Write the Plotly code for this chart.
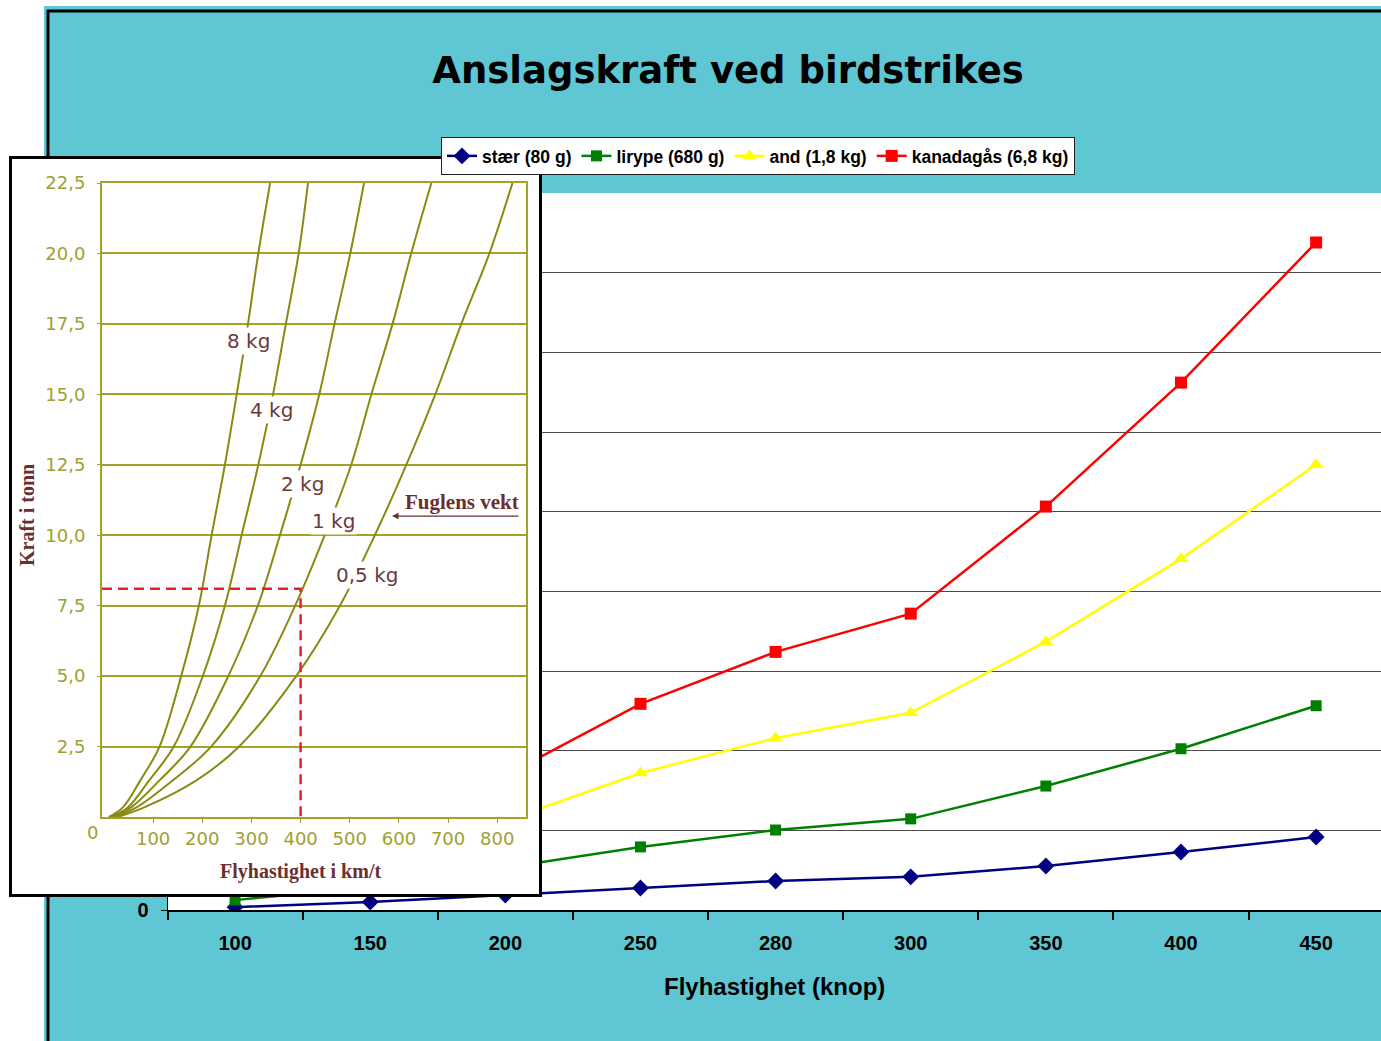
import plotly.graph_objects as go

W, H = 1381, 1041
OFF = 0  # page body margin is removed by the post script below

# ---------------- main chart data ----------------
speeds_knop = ["100", "150", "200", "250", "280", "300", "350", "400", "450"]
staer = [0.09, 0.25, 0.47, 0.69, 0.91, 1.04, 1.38, 1.82, 2.29]
lirype = [0.31, 0.72, 1.33, 1.98, 2.51, 2.86, 3.89, 5.06, 6.41]
and_ = [0.69, 1.55, 2.80, 4.30, 5.40, 6.19, 8.42, 11.02, 13.98]
kanadagaas = [1.04, 2.33, 4.22, 6.47, 8.10, 9.30, 12.66, 16.55, 20.95]
main_y_ticks = [0, 2.5, 5, 7.5, 10, 12.5, 15, 17.5, 20, 22.5]
# only "0" is visible in the picture; the other labels are hidden behind the inset
main_y_ticktext = ["0", "", "", "", "", "", "", "", "", ""]

# ---------------- inset (scanned chart) data ----------------
curve_y = [0, 0.35, 1.3, 2.5, 5, 7.5, 10, 12.5, 15, 17.5, 20, 22.5]
kg8_x = [10, 39, 74, 113, 157, 193, 219, 246, 270, 293, 314, 338]
kg4_x = [14, 49, 92, 142, 201, 246, 280, 314, 344, 370, 396, 415]
kg2_x = [18, 56, 113, 176, 253, 313, 358, 400, 438, 469, 501, 529]
kg1_x = [22, 67, 140, 218, 318, 389, 449, 503, 544, 587, 625, 666]
kg05_x = [28, 83, 188, 275, 391, 480, 551, 615, 674, 727, 784, 831]
inset_x_ticks = [100, 200, 300, 400, 500, 600, 700, 800]
inset_y_ticks = [2.5, 5, 7.5, 10, 12.5, 15, 17.5, 20, 22.5]
inset_y_ticktext = ["2,5", "5,0", "7,5", "10,0", "12,5", "15,0", "17,5", "20,0", "22,5"]
example_speed = 400
example_force = 8.1
weight_labels = ["8 kg", "4 kg", "2 kg", "1 kg", "0,5 kg"]
weight_label_x = [293, 340, 403, 466, 535]
weight_label_y = [16.89, 14.44, 11.82, 10.5, 8.59]

TEAL = "#5fc6d3"
OLIVE = "#a3a32c"
CURVE = "#8a8a12"
TICKOL = "#a0a030"
MAROON = "#6b2f2f"


def px_x(px):
    return (px - OFF) / W


def px_y(py):
    return 1 - (py - OFF) / H


fig = go.Figure()

# main series
series = [
    ("stær (80 g)", staer, "#000080", "diamond", 13),
    ("lirype (680 g)", lirype, "#008000", "square", 11),
    ("and (1,8 kg)", and_, "#ffff00", "triangle-up", 13),
    ("kanadagås (6,8 kg)", kanadagaas, "#ff0000", "square", 12),
]
for name, vals, col, sym, sz in series:
    fig.add_trace(go.Scatter(
        x=speeds_knop, y=vals, name=name, mode="lines+markers",
        line=dict(color=col, width=2.5),
        marker=dict(color=col, symbol=sym, size=sz, line=dict(width=0)),
        xaxis="x", yaxis="y",
    ))

# inset white box (subplot 2)
fig.add_trace(go.Scatter(
    x=[0, 1, 1, 0, 0], y=[0, 0, 1, 1, 0], fill="toself", fillcolor="white",
    mode="lines", line=dict(width=0), hoverinfo="skip", showlegend=False,
    xaxis="x2", yaxis="y2",
))

# inset curves (subplot 3)
for xs in [kg8_x, kg4_x, kg2_x, kg1_x, kg05_x]:
    fig.add_trace(go.Scatter(
        x=xs, y=curve_y, mode="lines",
        line=dict(color=CURVE, width=2, shape="spline", smoothing=1.0),
        hoverinfo="skip", showlegend=False, xaxis="x3", yaxis="y3",
    ))

# red dashed reading lines
fig.add_trace(go.Scatter(
    x=[-4, example_speed, example_speed], y=[example_force, example_force, 0],
    mode="lines", line=dict(color="#e8202a", width=2.5, dash="10px,6px"),
    hoverinfo="skip", showlegend=False, xaxis="x3", yaxis="y3",
))

annotations = []
for t, xv, yv in zip(weight_labels, weight_label_x, weight_label_y):
    annotations.append(dict(
        x=xv, y=yv, xref="x3", yref="y3", text=t, showarrow=False,
        xanchor="center", yanchor="middle",
        font=dict(family="DejaVu Sans", size=20, color="#6b3b3b"),
        bgcolor="white", borderpad=1,
    ))
annotations += [
    dict(x=728, y=11.18, xref="x3", yref="y3", text="Fuglens vekt", showarrow=False,
         xanchor="center", yanchor="middle",
         font=dict(family="Liberation Serif", size=21, color=MAROON, weight="bold"),
         bgcolor="white", borderpad=0),
    dict(x=586, y=10.68, xref="x3", yref="y3", ax=846, ay=10.68, axref="x3", ayref="y3",
         text="", showarrow=True, arrowhead=2, arrowsize=1, arrowwidth=1.3,
         arrowcolor=MAROON),
    dict(x=px_x(92), y=px_y(832), xref="paper", yref="paper", text="0", showarrow=False,
         xanchor="center", yanchor="middle",
         font=dict(family="DejaVu Sans", size=18, color=TICKOL)),
    dict(x=px_x(27), y=px_y(515), xref="paper", yref="paper", text="Kraft i tonn",
         textangle=-90, showarrow=False, xanchor="center", yanchor="middle",
         font=dict(family="Liberation Serif", size=20, color=MAROON, weight="bold")),
    dict(x=px_x(300), y=px_y(871), xref="paper", yref="paper", text="Flyhastighet i km/t",
         showarrow=False, xanchor="center", yanchor="middle",
         font=dict(family="Liberation Serif", size=20, color=MAROON, weight="bold")),
    dict(x=px_x(775), y=px_y(986), xref="paper", yref="paper", text="Flyhastighet (knop)",
         showarrow=False, xanchor="center", yanchor="middle",
         font=dict(family="Liberation Sans", size=24, color="black", weight="bold")),
]

shapes = [
    # white strips outside the teal panel
    dict(type="rect", xref="paper", yref="paper", x0=0, x1=px_x(44), y0=0, y1=1,
         fillcolor="white", line=dict(width=0), layer="below"),
    dict(type="rect", xref="paper", yref="paper", x0=0, x1=1, y0=px_y(6), y1=1,
         fillcolor="white", line=dict(width=0), layer="below"),
    # black panel border
    dict(type="line", xref="paper", yref="paper", x0=px_x(48), x1=px_x(48),
         y0=0, y1=px_y(10), line=dict(color="black", width=3), layer="below"),
    dict(type="line", xref="paper", yref="paper", x0=px_x(47), x1=1,
         y0=px_y(11), y1=px_y(11), line=dict(color="black", width=3), layer="below"),
]

fig.update_layout(
    width=W, height=H,
    margin=dict(l=0, r=0, t=0, b=0, pad=0, autoexpand=False),
    paper_bgcolor=TEAL, plot_bgcolor="white",
    title=dict(text="<b>Anslagskraft ved birdstrikes</b>", x=px_x(728), xanchor="center",
               y=px_y(70), yanchor="middle",
               font=dict(family="DejaVu Sans", size=37, color="black")),
    legend=dict(orientation="h", x=px_x(441), y=px_y(137), xanchor="left", yanchor="top",
                bgcolor="white", bordercolor="#222222", borderwidth=1,
                font=dict(family="Liberation Sans", size=17.5, color="black", weight="bold"),
                itemwidth=30),
    showlegend=True,
    xaxis=dict(domain=[px_x(167.5), 1], type="category", range=[-0.5, 8.48],
               anchor="y", showgrid=False, zeroline=False, automargin=False,
               showline=True, linecolor="black", linewidth=2,
               ticks="outside", ticklen=8, tickcolor="black", tickwidth=1.5,
               tickson="boundaries", ticklabelstandoff=14,
               tickfont=dict(family="Liberation Sans", size=20, color="black", weight="bold")),
    yaxis=dict(domain=[px_y(910), px_y(193)], range=[0, 22.5], anchor="x", automargin=False,
               tickvals=main_y_ticks, ticktext=main_y_ticktext,
               showgrid=True, gridcolor="#4a4a4a", gridwidth=1, zeroline=False,
               showline=True, linecolor="black", linewidth=1,
               ticks="outside", ticklen=6, tickcolor="black", ticklabelstandoff=8,
               tickfont=dict(family="Liberation Sans", size=20, color="black", weight="bold")),
    xaxis2=dict(domain=[px_x(12), px_x(539)], range=[0, 1], anchor="y2", automargin=False,
                showgrid=False, zeroline=False, showticklabels=False, ticks="",
                showline=True, mirror=True, linecolor="black", linewidth=3),
    yaxis2=dict(domain=[px_y(894), px_y(159)], range=[0, 1], anchor="x2", automargin=False,
                showgrid=False, zeroline=False, showticklabels=False, ticks="",
                showline=True, mirror=True, linecolor="black", linewidth=3),
    xaxis3=dict(domain=[px_x(102), px_x(525.5)], range=[-4, 857.5], anchor="y3",
                automargin=False, showgrid=False, zeroline=False,
                showline=True, mirror=True, linecolor=OLIVE, linewidth=2,
                tickvals=inset_x_ticks, ticks="outside", ticklen=4, tickcolor=OLIVE,
                ticklabelstandoff=0,
                tickfont=dict(family="DejaVu Sans", size=18, color=TICKOL)),
    yaxis3=dict(domain=[px_y(817), px_y(183)], range=[0, 22.5], anchor="x3",
                automargin=False,
                tickvals=inset_y_ticks, ticktext=inset_y_ticktext,
                showgrid=True, gridcolor=OLIVE, gridwidth=2, zeroline=False,
                showline=True, mirror=True, linecolor=OLIVE, linewidth=2,
                ticks="outside", ticklen=3, tickcolor=OLIVE, ticklabelstandoff=8,
                tickfont=dict(family="DejaVu Sans", size=18, color=TICKOL)),
    annotations=annotations,
    shapes=shapes,
)

fig.write_html(
    "out.html",
    config={"displayModeBar": False},
    post_script="document.body.style.margin='0';document.body.style.overflow='hidden';",
)
